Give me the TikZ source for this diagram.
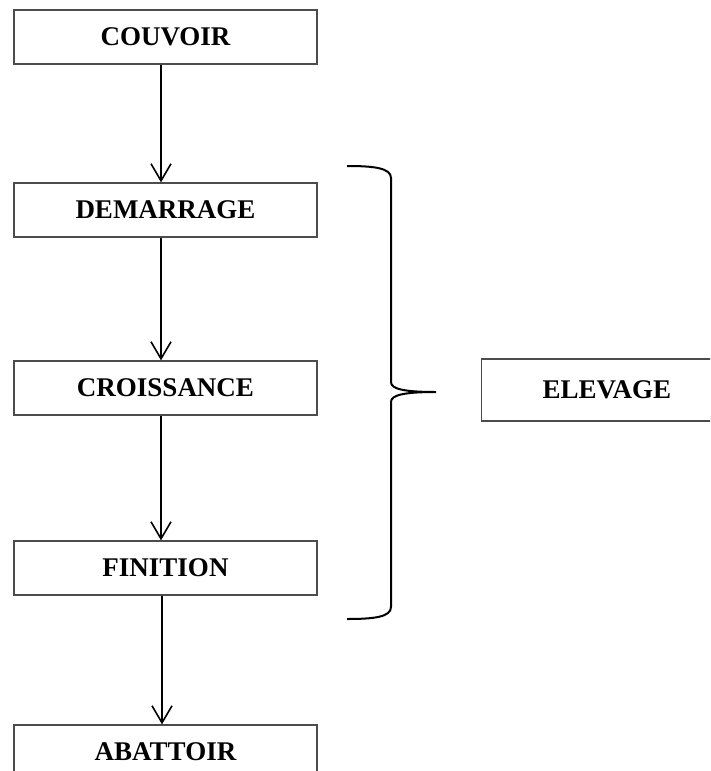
\documentclass[tikz,border=0pt]{standalone}
\usepackage{fontspec}
\setmainfont{Liberation Serif}
\usetikzlibrary{arrows.meta}
\begin{document}
\begin{tikzpicture}[x=1pt,y=-1pt,
  stage/.style={draw=black!70, line width=1.3pt, minimum width=303pt, minimum height=54pt,
    inner sep=0pt, font=\fontsize{27}{30}\selectfont\bfseries},
  flow/.style={line width=1.8pt, -{Straight Barb[length=17pt,width=20pt,line width=1.6pt]}},
  brace/.style={line width=2pt}]
  \useasboundingbox (0,0) rectangle (710,771);
  \clip (0,0) rectangle (710,771);

  % process stages
  \node[stage] (couvoir)    at (165.5,37)  {\raisebox{-2pt}{COUVOIR}};
  \node[stage] (demarrage)  at (165.5,210) {\raisebox{-2pt}{DEMARRAGE}};
  \node[stage] (croissance) at (165.5,388) {\raisebox{-2pt}{CROISSANCE}};
  \node[stage] (finition)   at (165.5,568) {\raisebox{-2pt}{FINITION}};
  \node[stage] (abattoir)   at (165.5,752) {\raisebox{-2pt}{ABATTOIR}};
  \node[stage, minimum width=260pt, minimum height=62pt, anchor=west,
        text width=200pt, align=left] (elevage) at (481,390) {\hspace*{31pt}ELEVAGE};

  % arrows between stages
  \draw[flow] ([xshift=-4.5pt]couvoir.south)    -- ([xshift=-4.5pt]demarrage.north);
  \draw[flow] ([xshift=-4.5pt]demarrage.south)  -- ([xshift=-4.5pt]croissance.north);
  \draw[flow] ([xshift=-4.5pt]croissance.south) -- ([xshift=-4.5pt]finition.north);
  \draw[flow] ([xshift=-3.5pt]finition.south)   -- ([xshift=-3.5pt]abattoir.north);

  % brace grouping the rearing stages
  \coordinate (tip) at (436,392);
  \draw[brace] (347,166) .. controls (374,166) and (391,168) .. (391,178)
    -- (391,382) .. controls (391,389) and (404,392) .. (tip)
    .. controls (404,392) and (391,395) .. (391,402)
    -- (391,607) .. controls (391,617) and (374,619) .. (347,619);
\end{tikzpicture}
\end{document}
